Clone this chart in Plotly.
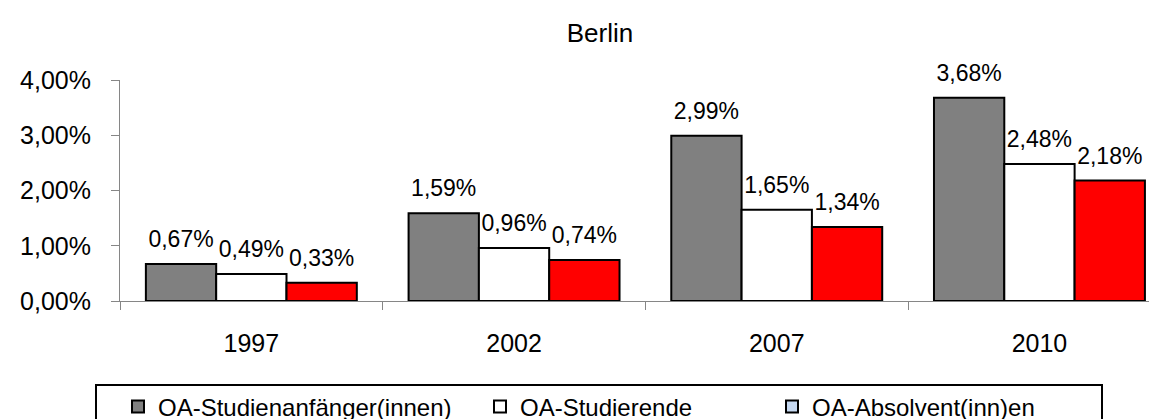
import plotly.graph_objects as go

# ---- data ----
years = ["1997", "2002", "2007", "2010"]
series_names = ["OA-Studienanfänger(innen)", "OA-Studierende", "OA-Absolvent(inn)en"]
anfaenger = [0.0067, 0.0159, 0.0299, 0.0368]
studierende = [0.0049, 0.0096, 0.0165, 0.0248]
absolventen = [0.0033, 0.0074, 0.0134, 0.0218]
y_ticks = [0.0, 0.01, 0.02, 0.03, 0.04]
title_text = "Berlin"

# ---- style ----
W, H = 1157, 419
L, T, B, R = 112, 72, 126, 0
plot_w = W - L - R
plot_h = H - T - B
cat_px = 262.7
FONT = "Arial, Liberation Sans, sans-serif"
bar_colors = ["#808080", "#FFFFFF", "#FF0000"]
legend_colors = ["#808080", "#FFFFFF", "#C6D9F1"]
legend_ids = ["legend", "legend2", "legend3"]
legend_left_px = [110, 472, 764]
GAP = 0.197

series_values = [anfaenger, studierende, absolventen]

fig = go.Figure()
for i, (name, vals) in enumerate(zip(series_names, series_values)):
    fig.add_trace(go.Bar(
        x=years, y=vals, name=name,
        marker=dict(color=bar_colors[i], line=dict(color="black", width=2)),
        offsetgroup=str(i), showlegend=(i < 2), legend=legend_ids[i],
        hoverinfo="skip",
    ))
# legend-only entry for third series (legend colour differs from bars in reference)
fig.add_trace(go.Bar(
    x=[years[0]], y=[None], name=series_names[2],
    marker=dict(color=legend_colors[2], line=dict(color="black", width=2)),
    offsetgroup="2", showlegend=True, legend=legend_ids[2], hoverinfo="skip",
))
# value labels above each bar
for i, vals in enumerate(series_values):
    fig.add_trace(go.Scatter(
        x=years, y=vals, mode="markers+text",
        marker=dict(size=16, opacity=0),
        texttemplate="%{y:.2%}", textposition="top center",
        textfont=dict(family=FONT, size=23, color="black"),
        offsetgroup=str(i), showlegend=False, hoverinfo="skip",
        cliponaxis=False,
    ))

def px_to_paper_x(px):
    return (px - L) / plot_w

def px_to_paper_y(py):
    return (H - B - py) / plot_h

fig.add_shape(type="rect", xref="paper", yref="paper",
              x0=px_to_paper_x(88), x1=px_to_paper_x(1094),
              y0=px_to_paper_y(425), y1=px_to_paper_y(377),
              line=dict(color="black", width=2), fillcolor="rgba(0,0,0,0)")

legend_common = dict(orientation="h", xref="container", yref="container",
                     xanchor="left", y=1 - 399 / H, yanchor="middle",
                     font=dict(family=FONT, size=24, color="black"),
                     bgcolor="rgba(0,0,0,0)", borderwidth=0)

fig.update_layout(
    width=W, height=H,
    margin=dict(l=L, r=R, t=T, b=B, pad=0),
    paper_bgcolor="white", plot_bgcolor="white",
    separators=",.",
    barmode="group", bargap=GAP, bargroupgap=0,
    scattermode="group", scattergap=GAP,
    font=dict(family=FONT, color="black"),
    title=dict(text=title_text, font=dict(family=FONT, size=26, color="black"),
               x=592 / W, xref="container", xanchor="center",
               y=1 - 25 / H, yref="container", yanchor="middle"),
    legend=dict(x=legend_left_px[0] / W, **legend_common),
    legend2=dict(x=legend_left_px[1] / W, **legend_common),
    legend3=dict(x=legend_left_px[2] / W, **legend_common),
    showlegend=True,
    hovermode=False,
)
fig.update_xaxes(
    type="category", range=[-0.5, -0.5 + plot_w / cat_px],
    showline=True, linecolor="#868686", linewidth=1,
    ticks="outside", tickson="boundaries", ticklen=8, tickcolor="#868686",
    showgrid=False, zeroline=False,
    tickfont=dict(family=FONT, size=25, color="black"),
    ticklabelstandoff=20,
)
fig.update_yaxes(
    range=[0, 0.04], tickvals=y_ticks, tickformat=".2%",
    showline=True, linecolor="#868686", linewidth=1,
    ticks="outside", ticklen=8, tickcolor="#868686",
    showgrid=False, zeroline=False,
    tickfont=dict(family=FONT, size=25, color="black"),
    ticklabelstandoff=15,
)

fig.write_html("out.html")
